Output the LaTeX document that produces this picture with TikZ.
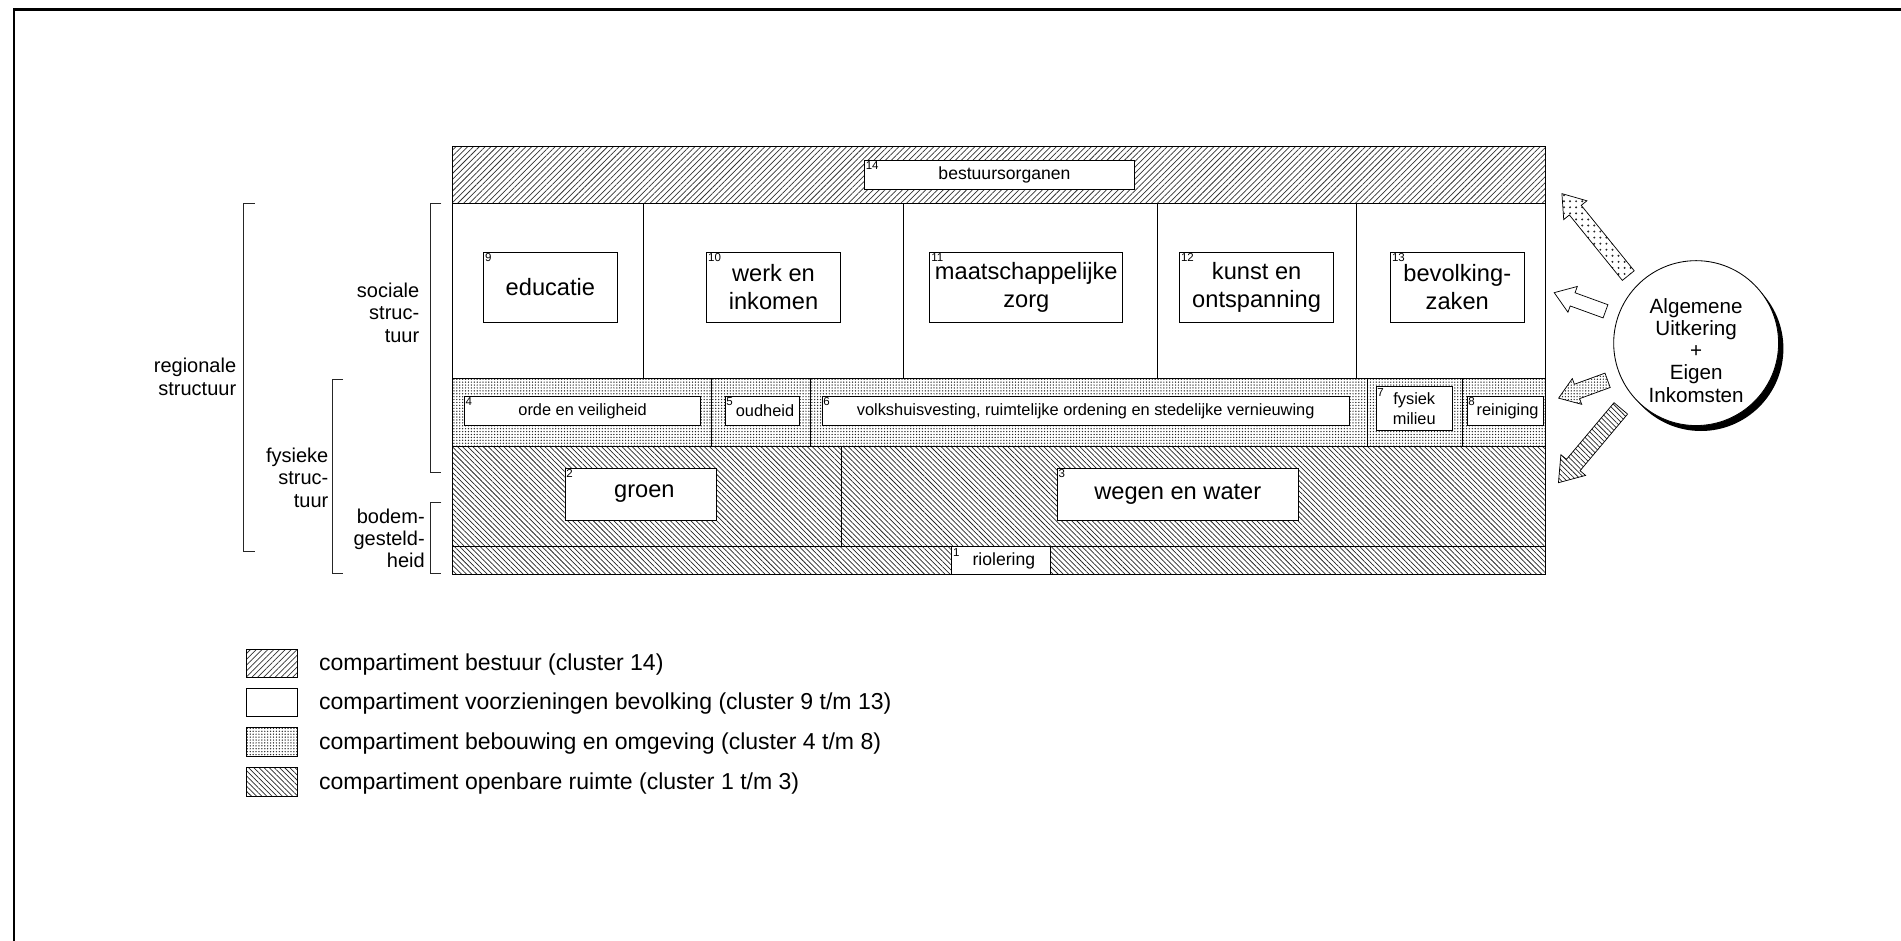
\documentclass[tikz,border=0pt]{standalone}
\usepackage{fontspec}
\setmainfont{Liberation Sans}
\usetikzlibrary{shapes.arrows,shadows,patterns.meta,positioning}

\tikzset{
  cluster/.style={draw, fill=white, line width=0.7pt, inner sep=0pt, align=center},
  groot/.style={font=\fontsize{19.5}{23}\selectfont},
  klein/.style={font=\fontsize{13.5}{16}\selectfont},
  nr/.style={anchor=north west, inner sep=1.3pt, font=\fontsize{9.5}{10}\selectfont},
  bestuurfill/.style={pattern={Lines[angle=45,distance=3.4pt,line width=0.6pt]}, pattern color=black!80},
  ruimtefill/.style={pattern={Lines[angle=-45,distance=3pt,line width=0.6pt]}, pattern color=black!85},
  bebouwfill/.style={pattern={Dots[distance=2.4pt,radius=0.6pt]}, pattern color=black!85},
  losdots/.style={pattern={Dots[distance=5pt,radius=0.9pt]}, pattern color=black!85},
  geldpijl/.style n args={3}{single arrow, draw, line width=0.6pt, inner xsep=0pt,
    inner ysep=#2, single arrow head extend=#3, single arrow tip angle=70, minimum height=#1},
  haak/.style={draw=black!85, line width=0.7pt},
  zijtxt/.style={font=\fontsize{16.5}{18.5}\selectfont, align=right, inner sep=0pt, anchor=east},
  legtxt/.style={font=\fontsize{19}{20}\selectfont, anchor=west, inner sep=0pt},
}

\begin{document}
\begin{tikzpicture}[x=1pt,y=-1pt]
\useasboundingbox (0,0) rectangle (1568,776);
% kader
\draw[line width=2pt] (11.5,776) -- (11.5,8) -- (1568,8);

% compartimenten
\fill[bestuurfill] (373,121) rectangle (1275,168);
\fill[bebouwfill] (373,312) rectangle (1275,368);
\fill[ruimtefill] (373,368) rectangle (1275,474);
\draw[line width=0.8pt] (373,121) rectangle (1275,474);
\foreach \y in {168,312,368,451} \draw[line width=0.8pt] (373,\y) -- (1275,\y);
\foreach \x in {531,745,955,1119} \draw[line width=0.6pt] (\x,168) -- (\x,312);
\foreach \x in {587,668,1128,1206} \draw[line width=0.6pt] (\x,312) -- (\x,368);
\draw[line width=0.6pt] (694,368) -- (694,451);

% clusters
\node[cluster, minimum width=223pt, minimum height=24pt, font=\fontsize{14.5}{16}\selectfont, label={[nr]north west:14}] (bestuur) at (824.5,144) {\hspace{8pt}bestuursorganen};
\node[cluster, groot, minimum width=110pt, minimum height=58pt, label={[nr]north west:9}] (educatie) at (454,237) {educatie};
\node[cluster, groot, minimum width=110pt, minimum height=58pt, label={[nr]north west:10}] (werk) at (638,237) {werk en\\inkomen};
\node[cluster, groot, minimum width=159pt, minimum height=58pt, label={[nr]north west:11}] (zorg) at (846.5,237) {maatschappelijke\\zorg};
\node[cluster, groot, minimum width=127pt, minimum height=58pt, label={[nr]north west:12}] (kunst) at (1036.5,237) {kunst en\\ontspanning};
\node[cluster, groot, minimum width=110pt, minimum height=58pt, label={[nr]north west:13}] (bevolking) at (1202,237) {bevolking-\\zaken};

\node[cluster, klein, minimum width=195pt, minimum height=24pt, label={[nr]north west:4}] (orde) at (480.5,339) {orde en veiligheid};
\node[cluster, klein, minimum width=61pt, minimum height=24pt, label={[nr]north west:5}] (oudheid) at (628.5,339) {\hspace{5pt}oudheid};
\node[cluster, klein, minimum width=435pt, minimum height=24pt, label={[nr]north west:6}] (volkshuis) at (895.5,339) {volkshuisvesting, ruimtelijke ordening en stedelijke vernieuwing};
\node[cluster, klein, minimum width=63pt, minimum height=36pt, label={[nr]north west:7}] (milieu) at (1166.5,337) {fysiek\\milieu};
\node[cluster, klein, minimum width=63pt, minimum height=24pt, label={[nr]north west:8}] (reiniging) at (1241.5,339) {\hspace{4pt}reiniging};

\node[cluster, groot, minimum width=125pt, minimum height=43pt, label={[nr]north west:2}] (groen) at (528.5,407.5) {\hspace{6pt}groen};
\node[cluster, groot, minimum width=199pt, minimum height=43pt, label={[nr]north west:3}] (wegen) at (971.5,407.5) {wegen en water};
\node[cluster, font=\fontsize{14.5}{16}\selectfont, minimum width=81pt, minimum height=23pt, label={[nr]north west:1}] (riool) at (825.5,462.5) {\hspace{5pt}riolering};

% structuren links
\draw[haak] (210,168) -- (201,168) -- (201,455) -- (210,455);
\draw[haak] (364,168) -- (355,168) -- (355,390) -- (364,390);
\draw[haak] (283,313) -- (274,313) -- (274,473) -- (283,473);
\draw[haak] (364,414) -- (355,414) -- (355,473) -- (364,473);
\node[zijtxt] (regionaal) at (195,311) {regionale\\structuur};
\node[zijtxt] (sociaal) at (346,258) {sociale\\struc-\\tuur};
\node[zijtxt] (fysiek) at (271,394) {fysieke\\struc-\\tuur};
\node[zijtxt] (bodem) at (350.5,444) {bodem-\\gesteld-\\heid};

% inkomsten
\node[circle, draw, line width=0.7pt, fill=white, minimum size=136pt,
  drop shadow={shadow xshift=4pt, shadow yshift=-4.5pt, opacity=1, fill=black}] (inkomsten) at (1399,283) {};
\node[font=\fontsize{17}{18.3}\selectfont, align=center] (inktxt) at ([yshift=-6pt]inkomsten.center) {Algemene\\Uitkering\\+\\Eigen\\Inkomsten};

\node[geldpijl={87pt}{6pt}{6pt}, losdots, rotate=129] (pijl1) at (1318.5,197) {};
\node[geldpijl={45pt}{5.5pt}{5.5pt}, fill=white, rotate=160] (pijl2) at (1307,250.5) {};
\node[geldpijl={43pt}{6pt}{5pt}, bebouwfill, rotate=200] (pijl3) at (1310,319.5) {};
\node[geldpijl={80pt}{7pt}{6pt}, ruimtefill, rotate=230] (pijl4) at (1314.5,363.5) {};

% legenda
\draw[line width=0.6pt, bestuurfill] (203,536) rectangle (245,559);
\draw[line width=0.6pt, fill=white] (203,568) rectangle (245,591);
\draw[line width=0.6pt, bebouwfill] (203,600) rectangle (245,624);
\draw[line width=0.6pt, ruimtefill] (203,633) rectangle (245,657);
\node[legtxt] (leg1) at (263,548) {compartiment bestuur (cluster 14)};
\node[legtxt] (leg2) at (263,580) {compartiment voorzieningen bevolking (cluster 9 t/m 13)};
\node[legtxt] (leg3) at (263,613) {compartiment bebouwing en omgeving (cluster 4 t/m 8)};
\node[legtxt] (leg4) at (263,646) {compartiment openbare ruimte (cluster 1 t/m 3)};
\end{tikzpicture}
\end{document}
